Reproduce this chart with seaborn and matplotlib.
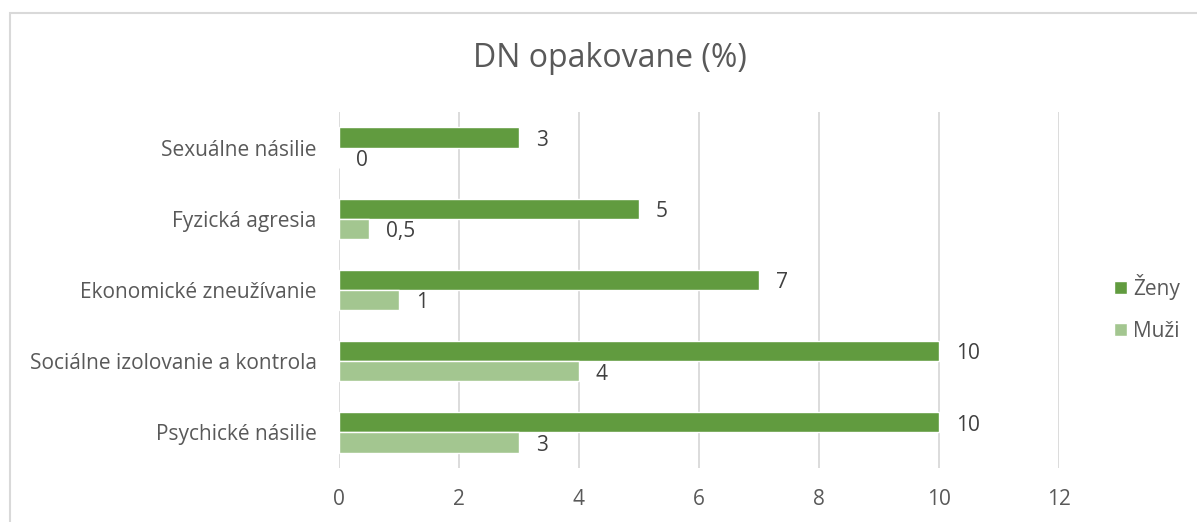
import pandas as pd
import matplotlib.pyplot as plt
import seaborn as sns
from matplotlib.patches import Rectangle, Patch

# data
CATEGORIES = ["Sexuálne násilie", "Fyzická agresia", "Ekonomické zneužívanie",
              "Sociálne izolovanie a kontrola", "Psychické násilie"]
ZENY = [3, 5, 7, 10, 10]
MUZI = [0, 0.5, 1, 4, 3]
SERIES = ["Ženy", "Muži"]
COLORS = {"Ženy": "#619B3F", "Muži": "#A3C690"}

df = pd.DataFrame({
    "kategoria": CATEGORIES * 2,
    "pohlavie": ["Ženy"] * len(CATEGORIES) + ["Muži"] * len(CATEGORIES),
    "hodnota": ZENY + MUZI,
})

sns.set_theme(style="white")
plt.rcParams["font.family"] = ["Open Sans", "DejaVu Sans"]

fig = plt.figure(figsize=(11.97, 5.22), dpi=100)
ax = fig.add_axes([339 / 1197, 1 - 468 / 522, 720 / 1197, 356 / 522])

sns.barplot(data=df, y="kategoria", x="hodnota", hue="pohlavie",
            order=CATEGORIES, hue_order=SERIES, palette=COLORS,
            orient="h", width=0.57, saturation=1, ax=ax, legend=False)

for cont in ax.containers:
    labels = [f"{v.get_width():g}".replace(".", ",") for v in cont]
    texts = ax.bar_label(cont, labels=labels, padding=12, fontsize=15, color="#404040")
    for t in texts:
        t.xyann = (12, -2)  # nudge down a bit, Open Sans sits high

ax.set_xlim(0, 12)
ax.set_xticks(range(0, 13, 2))
ax.set_xlabel("")
ax.set_ylabel("")
ax.grid(axis="x", color="#D9D9D9", linewidth=1.3)
ax.set_axisbelow(True)
sns.despine(ax=ax, left=True, bottom=True)
ax.tick_params(axis="x", labelsize=15, labelcolor="#595959", length=0, pad=15)
ax.tick_params(axis="y", labelsize=15, labelcolor="#595959", length=0, pad=16)

fig.text(0.5097, 0.887, "DN opakovane (%)", ha="center", va="center",
         fontsize=23, color="#595959")

handles = [Patch(facecolor=COLORS[s], label=s) for s in SERIES]
fig.legend(handles=handles, loc="center left", bbox_to_anchor=(0.915, 0.41),
           frameon=False, fontsize=15, labelcolor="#595959",
           handlelength=0.6, handleheight=0.6, handletextpad=0.3,
           labelspacing=1.0)

fig.patches.append(Rectangle((10 / 1197, -0.1), 1.2, 1 - 13 / 522 + 0.1,
                             transform=fig.transFigure, fill=False,
                             edgecolor="#D9D9D9", linewidth=1.5))

fig.savefig("out.png", dpi=100)
